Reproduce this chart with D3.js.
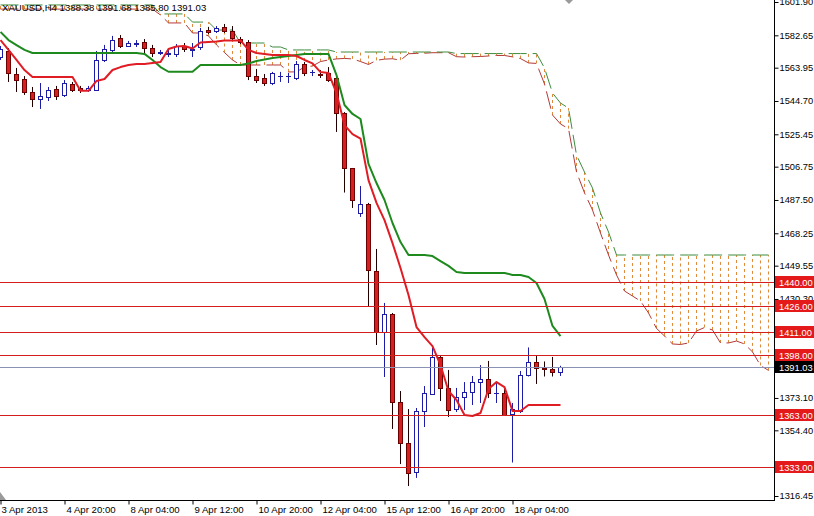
<!DOCTYPE html>
<html><head><meta charset="utf-8">
<script src="https://cdn.jsdelivr.net/npm/d3@7"></script>
<style>
html,body{margin:0;padding:0;background:#fff;}
svg{display:block;font-family:"Liberation Sans",Arial,sans-serif;}
</style></head><body>
<svg id="c" width="814" height="516"></svg>
<script>
const chartTitle = "XAUUSD,H4 1388.38 1391.68 1385.80 1391.03";

const openP = [1570.1,1573.6,1560.3,1557.4,1549.9,1545.9,1547.0,1551.6,1548.2,1554.5,
1552.2,1551.1,1551.1,1568.4,1574.2,1581.1,1576.5,1577.9,1578.8,1575.3,
1572.7,1571.9,1571.9,1576.5,1574.2,1575.9,1585.7,1585.1,1587.5,1585.4,
1580.5,1578.5,1558.9,1558.0,1555.1,1559.1,1558.9,1558.0,1566.1,1561.5,
1560.3,1560.9,1557.7,1537.5,1505.7,1480.0,1485.2,1446.5,1411.5,1421.9,
1370.5,1346.8,1330.6,1365.3,1375.4,1396.5,1378.6,1366.7,1373.9,1376.5,
1382.6,1383.8,1375.7,1375.7,1363.8,1365.3,1386.1,1394.1,1390.4,1389.6,1388.38];
const highP = [1576.5,1575.3,1563.8,1559.1,1552.8,1555.1,1552.8,1553.4,1556.8,1555.7,
1553.4,1553.4,1573.6,1577.1,1582.3,1582.8,1579.4,1579.9,1580.5,1577.1,
1574.2,1574.2,1577.6,1578.2,1578.2,1586.9,1587.5,1588.0,1589.2,1588.0,
1581.7,1579.9,1563.2,1560.3,1561.5,1561.5,1560.9,1567.8,1567.2,1562.6,
1562.6,1564.3,1559.1,1538.3,1506.0,1495.6,1485.8,1459.2,1428.0,1422.2,
1377.1,1366.7,1367.3,1380.0,1402.0,1397.3,1389.3,1378.9,1382.3,1385.8,
1392.1,1394.5,1381.7,1378.9,1370.2,1388.7,1402.3,1397.9,1394.2,1396.8,1391.68];
const lowP = [1568.4,1555.7,1549.9,1548.2,1541.2,1540.1,1544.7,1545.3,1547.0,1549.9,
1549.3,1549.9,1550.5,1567.2,1572.4,1575.3,1575.9,1575.9,1572.4,1570.1,
1571.3,1570.1,1570.1,1573.0,1570.1,1574.2,1583.4,1584.0,1584.0,1579.4,
1577.6,1556.8,1555.1,1553.4,1553.9,1555.7,1555.1,1556.8,1559.1,1559.1,
1558.0,1555.7,1526.8,1491.8,1482.9,1477.7,1425.7,1403.7,1385.2,1355.2,
1334.9,1322.2,1326.9,1356.3,1374.8,1371.3,1362.1,1365.0,1366.1,1369.0,
1370.2,1373.1,1370.2,1362.7,1335.8,1364.4,1385.5,1381.2,1385.5,1385.5,1385.80];
const closeP = [1574.7,1560.9,1556.8,1549.9,1545.9,1547.6,1551.1,1547.6,1555.1,1551.1,
1551.1,1552.2,1568.4,1574.7,1579.9,1576.5,1578.2,1578.2,1575.3,1572.4,
1573.0,1572.4,1576.5,1574.5,1574.7,1585.1,1584.6,1586.9,1585.4,1581.1,
1578.8,1558.9,1557.1,1555.1,1560.6,1559.4,1559.1,1566.1,1560.6,1561.5,
1560.0,1556.8,1537.5,1506.0,1487.5,1485.2,1446.8,1411.2,1421.9,1370.5,
1347.1,1330.0,1365.6,1375.7,1396.5,1378.9,1366.4,1373.9,1376.3,1382.3,
1383.8,1376.0,1376.0,1363.0,1367.0,1386.4,1394.1,1390.4,1390.1,1388.1,1391.03];

const tenkan = [1579.9,1574.2,1568.4,1562.6,1558.6,1558.6,1558.6,1558.6,1558.6,1558.6,
1550.6,1550.6,1556.3,1557.4,1562.6,1564.3,1565.5,1566.1,1566.1,1566.6,
1567.2,1574.7,1576.2,1576.5,1575.0,1578.5,1578.8,1579.1,1579.7,1579.7,
1579.7,1574.2,1572.4,1571.9,1571.3,1571.3,1571.3,1570.7,1568.4,1566.4,
1561.4,1560.9,1549.3,1530.8,1525.6,1523.0,1499.0,1485.8,1475.9,1462.6,
1448.2,1432.6,1414.1,1408.3,1403.1,1392.1,1377.1,1371.9,1363.3,1362.7,
1364.4,1378.3,1382.3,1379.4,1365.6,1365.6,1369.0,1369.0,1369.0,1369.0,1369.0];
const kijun = [1584.6,1579.9,1577.0,1574.2,1572.4,1572.4,1572.4,1572.4,1572.4,1572.4,
1572.4,1572.4,1572.4,1572.4,1572.4,1572.4,1572.4,1572.4,1571.9,1568.4,
1564.3,1561.6,1561.6,1561.6,1561.6,1565.5,1565.5,1565.5,1565.5,1565.5,
1565.5,1566.4,1567.8,1568.7,1569.5,1570.1,1570.7,1571.3,1571.9,1571.9,
1571.9,1571.9,1559.7,1542.4,1537.2,1534.3,1508.3,1497.3,1487.5,1474.2,
1463.2,1455.7,1455.7,1455.7,1455.1,1452.2,1449.4,1445.9,1445.3,1445.3,
1445.3,1445.3,1445.3,1445.3,1444.2,1444.2,1443.0,1439.5,1430.3,1414.7,1408.9];
const spanA = [1597.8,1597.8,1597.8,1597.8,1597.8,1597.8,1597.8,1597.8,1597.8,1597.8,
1597.8,1597.8,1597.8,1597.8,1597.8,1597.8,1597.8,1597.8,1597.8,1597.8,
1594.4,1589.8,1589.8,1589.8,1584.0,1584.0,1582.3,1577.1,1572.7,1568.4,
1565.5,1565.5,1565.5,1565.5,1565.5,1565.5,1561.5,1561.5,1564.4,1564.9,
1567.5,1568.4,1569.0,1569.3,1569.0,1567.5,1565.8,1568.2,1568.9,1569.1,
1568.3,1572.0,1572.2,1572.3,1572.6,1572.6,1572.6,1570.3,1570.1,1570.3,
1570.4,1570.7,1571.0,1571.0,1570.2,1569.2,1566.7,1566.4,1554.5,1536.6,
1531.4,1528.7,1503.7,1491.6,1481.7,1468.4,1455.7,1444.2,1434.9,1432.0,
1429.1,1422.2,1413.3,1408.9,1404.3,1404.0,1404.9,1411.8,1413.8,1412.4,
1404.9,1404.9,1406.0,1404.3,1399.7,1391.9,1389.0];
const spanB = [1600.2,1600.2,1600.2,1600.2,1600.2,1600.2,1600.2,1600.2,1600.2,1600.2,
1600.2,1600.2,1600.2,1600.2,1600.2,1600.2,1600.2,1600.2,1600.2,1600.2,
1595.0,1595.0,1595.0,1595.0,1590.3,1590.3,1590.3,1585.7,1585.7,1585.7,
1578.2,1578.2,1578.2,1578.2,1575.9,1575.9,1574.2,1574.2,1574.2,1574.2,
1574.2,1574.2,1573.0,1573.0,1573.0,1573.0,1573.0,1573.0,1573.0,1573.0,
1573.0,1573.0,1573.0,1573.0,1573.0,1573.0,1573.0,1572.1,1572.1,1572.1,
1572.1,1572.1,1572.1,1572.1,1572.1,1572.1,1572.1,1572.1,1563.8,1549.3,
1543.5,1540.6,1513.5,1503.6,1494.4,1480.0,1469.0,1455.7,1455.7,1455.7,
1455.7,1455.7,1455.7,1455.7,1455.7,1455.7,1455.7,1455.7,1455.7,1455.7,
1455.7,1455.7,1455.7,1455.7,1455.7,1455.7,1455.7];

const levels = [1440, 1426, 1411, 1398, 1363, 1333];
const bidPrice = 1391.03;
const yTicks = [1601.90,1582.65,1563.95,1544.70,1525.45,1506.75,1487.50,1468.25,1449.55,1430.30,1373.10,1354.40,1335.15,1316.45];
const xTickBars = [0,8,16,24,32,40,48,56,64];
const xTickLabels = ["3 Apr 2013","4 Apr 20:00","8 Apr 04:00","9 Apr 12:00","10 Apr 20:00","12 Apr 04:00","15 Apr 12:00","16 Apr 20:00","18 Apr 04:00"];

const FS = "9.3px";
const plotR = 774, plotB = 500;
const svg = d3.select("#c");
const x = d3.scaleLinear().domain([0, 96]).range([0, 768]);
const y = d3.scaleLinear().domain([1316.45, 1601.90]).range([496, 2]);
const px = i => Math.round(x(i)) + 0.5;
const py = v => Math.round(y(v)) + 0.5;

svg.append("defs").append("clipPath").attr("id","clip")
  .append("rect").attr("x",0).attr("y",0).attr("width",plotR).attr("height",plotB);
const plot = svg.append("g").attr("clip-path","url(#clip)");

// cloud hatch
plot.append("g").selectAll("line").data(spanA).join("line")
  .attr("x1",(d,j)=>px(j)).attr("x2",(d,j)=>px(j))
  .attr("y1",d=>y(d)).attr("y2",(d,j)=>y(spanB[j]))
  .attr("stroke","#e08a3c").attr("stroke-width",1).attr("stroke-dasharray","3,3");

const line = d3.line().x((d,i)=>x(i)+0.5).y(d=>y(d));
plot.append("path").datum(spanA).attr("d",line).attr("fill","none")
  .attr("stroke","#b43a3a").attr("stroke-width",1).attr("stroke-dasharray","18,6");
plot.append("path").datum(spanB).attr("d",line).attr("fill","none")
  .attr("stroke","#3d8d3d").attr("stroke-width",1).attr("stroke-dasharray","18,6");

// candles
const idx = d3.range(openP.length);
const cg = plot.append("g");
idx.forEach(i => {
  const bull = closeP[i] >= openP[i];
  const col = bull ? "#1c1ca8" : "#220000";
  const cx = px(i);
  cg.append("line").attr("x1",cx).attr("x2",cx).attr("y1",y(highP[i])).attr("y2",y(lowP[i]))
    .attr("stroke",col).attr("stroke-width",1);
  const t = Math.round(y(Math.max(openP[i],closeP[i])));
  const b = Math.round(y(Math.min(openP[i],closeP[i])));
  if (b - t < 1) {
    cg.append("line").attr("x1",cx-2.5).attr("x2",cx+2.5).attr("y1",t+0.5).attr("y2",t+0.5)
      .attr("stroke",col).attr("stroke-width",1);
  } else {
    cg.append("rect").attr("x",cx-2).attr("y",t+0.5).attr("width",4).attr("height",b-t)
      .attr("fill",bull?"#ffffff":"#d81e1e").attr("stroke",bull?"#1c1ca8":"#6a0000").attr("stroke-width",1);
  }
});

// tenkan / kijun
plot.append("path").datum(kijun).attr("d",line).attr("fill","none")
  .attr("stroke","#1e8a1e").attr("stroke-width",2).attr("stroke-linejoin","round");
plot.append("path").datum(tenkan).attr("d",line).attr("fill","none")
  .attr("stroke","#e01c24").attr("stroke-width",2).attr("stroke-linejoin","round");

// level lines
plot.append("g").selectAll("line").data(levels).join("line")
  .attr("x1",0).attr("x2",plotR).attr("y1",d=>py(d)).attr("y2",d=>py(d))
  .attr("stroke","#d41e1e").attr("stroke-width",1);
plot.append("line").attr("x1",0).attr("x2",plotR).attr("y1",py(bidPrice)).attr("y2",py(bidPrice))
  .attr("stroke","#8a92b4").attr("stroke-width",1);

// title
svg.append("text").attr("x",2).attr("y",11).attr("font-size","9.6px").attr("fill","#000")
  .text(chartTitle);

// right axis
const ya = svg.append("g").attr("transform",`translate(${plotR+0.5},0)`)
  .call(d3.axisRight(y).tickValues(yTicks).tickSize(4).tickPadding(1).tickFormat(d3.format(".2f")));
ya.select(".domain").remove();
ya.selectAll("text").attr("font-size",FS).attr("font-family","Liberation Sans, Arial, sans-serif").attr("fill","#000");
ya.selectAll("line").attr("stroke","#000");

// bottom axis
const xa = svg.append("g").attr("transform",`translate(0,${plotB+0.5})`)
  .call(d3.axisBottom(x).tickValues(xTickBars).tickSize(4).tickPadding(2).tickFormat((d,i)=>xTickLabels[i]));
xa.select(".domain").remove();
xa.selectAll(".tick line").attr("transform","translate(0.5,0)").attr("stroke","#000");
xa.selectAll("text").attr("text-anchor","start").attr("x",(d,i)=> i===0 ? 1 : 2)
  .attr("font-size","9.6px").attr("font-family","Liberation Sans, Arial, sans-serif").attr("fill","#000");

// axis frame lines
svg.append("line").attr("x1",plotR+0.5).attr("x2",plotR+0.5).attr("y1",0).attr("y2",plotB+1).attr("stroke","#000");
svg.append("line").attr("x1",0).attr("x2",plotR+1).attr("y1",plotB+0.5).attr("y2",plotB+0.5).attr("stroke","#000");

// price labels
const lab = svg.append("g");
levels.forEach(v => {
  const yy = py(v);
  lab.append("rect").attr("x",775).attr("y",yy-6.5).attr("width",39).attr("height",12).attr("fill","#e41a1a");
  lab.append("text").attr("x",779).attr("y",yy+3.5).attr("font-size",FS).attr("fill","#fff").text(d3.format(".2f")(v));
});
{
  const yy = py(bidPrice);
  lab.append("rect").attr("x",775).attr("y",yy-6.5).attr("width",39).attr("height",12).attr("fill","#000");
  lab.append("text").attr("x",779).attr("y",yy+3.5).attr("font-size",FS).attr("fill","#fff").text(d3.format(".2f")(bidPrice));
}

// chart shift markers
svg.append("path").attr("d","M565,0 L573,0 L569,4 Z").attr("fill","#9a9a9a");
svg.append("path").attr("d","M0,492 L0,500 L6,500 Z").attr("fill","#9a9a9a");
</script>
</body></html>
